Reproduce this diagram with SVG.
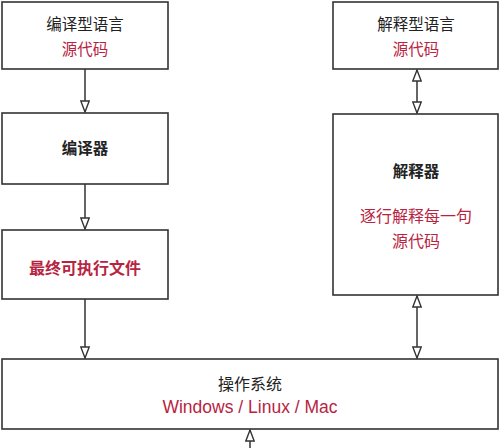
<svg xmlns="http://www.w3.org/2000/svg" width="500" height="448" viewBox="0 0 500 448">
<style>
.box{fill:#fff;stroke:#333;stroke-width:1.6}
.t{font-family:"Noto Sans CJK SC","Liberation Sans",sans-serif;font-size:15.5px;fill:#222;text-anchor:middle}
.b{font-weight:bold}
.r{fill:#b8243f}
.conn{stroke:#333;stroke-width:1.5;fill:none}
</style>
<defs>
<marker id="tri" viewBox="0 0 13 10" refX="12" refY="5" markerWidth="13" markerHeight="10" markerUnits="userSpaceOnUse" orient="auto-start-reverse">
<path d="M1,0.8 L12,5 L1,9.2 Z" fill="#fff" stroke="#333" stroke-width="1.4"/>
</marker>
</defs>
<rect width="500" height="448" fill="#fff"/>
<g id="connectors">
<line class="conn" x1="85" y1="69" x2="85" y2="112" marker-end="url(#tri)"/>
<line class="conn" x1="85" y1="184" x2="85" y2="229" marker-end="url(#tri)"/>
<line class="conn" x1="85" y1="299" x2="85" y2="358" marker-end="url(#tri)"/>
<line class="conn" x1="417" y1="70" x2="417" y2="113" marker-start="url(#tri)" marker-end="url(#tri)"/>
<line class="conn" x1="417" y1="296" x2="417" y2="358" marker-start="url(#tri)" marker-end="url(#tri)"/>
<line class="conn" x1="250" y1="448" x2="250" y2="430" marker-end="url(#tri)"/>
</g>
<g id="compiled-lang">
<rect class="box" x="2" y="2" width="166" height="67"/>
<text class="t" x="85" y="30">编译型语言</text>
<text class="t r" x="85" y="55">源代码</text>
</g>
<g id="compiler">
<rect class="box" x="2" y="113" width="166" height="71"/>
<text class="t b" x="85" y="154">编译器</text>
</g>
<g id="executable">
<rect class="box" x="2" y="230" width="166" height="69"/>
<text class="t b r" x="85" y="274" style="font-size:16px">最终可执行文件</text>
</g>
<g id="interpreted-lang">
<rect class="box" x="333" y="2" width="165" height="67"/>
<text class="t" x="416" y="30">解释型语言</text>
<text class="t r" x="416" y="55">源代码</text>
</g>
<g id="interpreter">
<rect class="box" x="333" y="114" width="165" height="181"/>
<text class="t b" x="416" y="177">解释器</text>
<text class="t r" x="416" y="222" style="font-size:16px">逐行解释每一句</text>
<text class="t r" x="416" y="247" style="font-size:16px">源代码</text>
</g>
<g id="os">
<rect class="box" x="2" y="359" width="496" height="70"/>
<text class="t" x="250" y="390" style="font-size:16px">操作系统</text>
<text class="t r" x="250" y="413" style="font-family:'Liberation Sans',sans-serif;font-size:17.5px">Windows / Linux / Mac</text>
</g>
</svg>
